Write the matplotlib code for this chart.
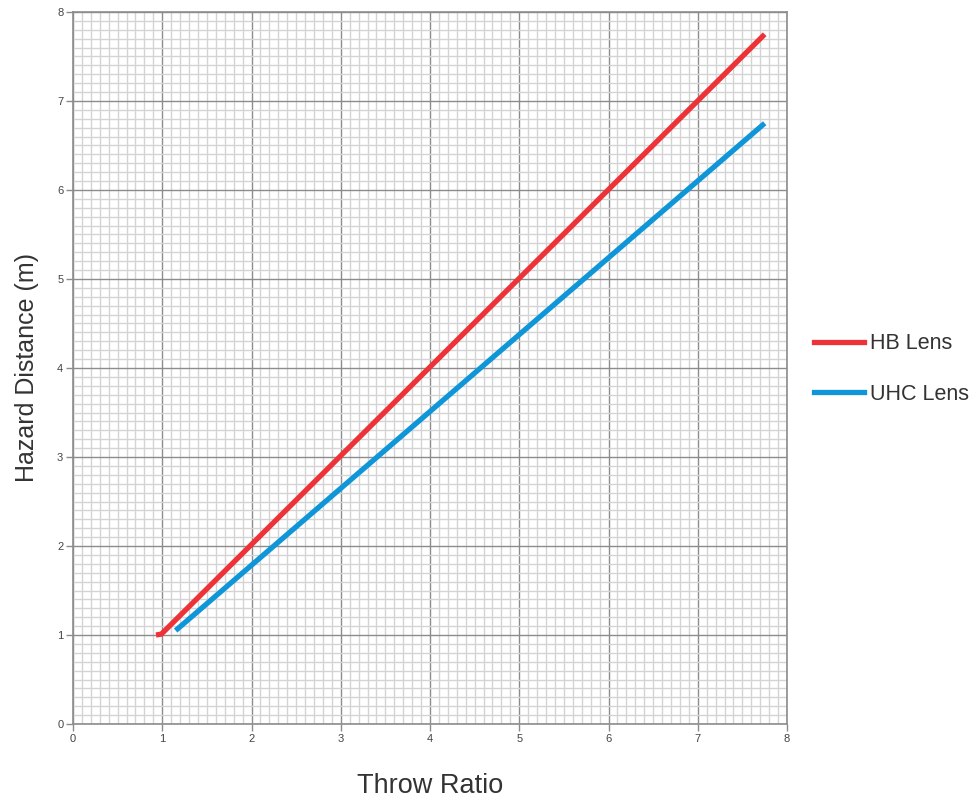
import matplotlib
matplotlib.use("Agg")
import matplotlib.pyplot as plt
from matplotlib.ticker import MultipleLocator
from matplotlib.lines import Line2D

plt.rcParams['font.family'] = ['Liberation Sans', 'DejaVu Sans']

hb_x = [0.93, 0.99, 7.75]
hb_y = [1.00, 1.01, 7.75]
uhc_x = [1.15, 7.75]
uhc_y = [1.05, 6.75]

series_names = ["HB Lens", "UHC Lens"]
colors = ["#EE3338", "#0E96D8"]

fig = plt.figure(figsize=(9.73, 8.0), dpi=100)
ax = fig.add_axes([73/973, 1-724/800, (787-73)/973, (724-12)/800])

ax.plot(hb_x, hb_y, color=colors[0], lw=3.8, solid_capstyle='butt', zorder=3)
ax.plot(uhc_x, uhc_y, color=colors[1], lw=3.8, solid_capstyle='butt', zorder=3)

ax.set_xlim(0, 8)
ax.set_ylim(0, 8)
ax.xaxis.set_major_locator(MultipleLocator(1))
ax.yaxis.set_major_locator(MultipleLocator(1))
ax.xaxis.set_minor_locator(MultipleLocator(0.1))
ax.yaxis.set_minor_locator(MultipleLocator(0.1))
ax.grid(which='minor', color='#d4d4d4', lw=1.0, zorder=0)
ax.grid(which='major', color='#8c8c8c', lw=1.0, zorder=1)
ax.set_axisbelow(True)
ax.tick_params(which='minor', length=0)
ax.tick_params(which='major', length=5, width=1, color='#8c8c8c', labelsize=8, labelcolor='#444444', pad=2)
for s in ax.spines.values():
    s.set_color('#8c8c8c')
    s.set_linewidth(1.2)

ax.set_xlabel("Throw Ratio", fontsize=19.5, color='#333333', labelpad=21)
ax.set_ylabel("Hazard Distance (m)", fontsize=18, color='#333333', labelpad=13)

handles = [Line2D([], [], color=c, lw=3.8) for c in colors]
fig.legend(handles, series_names, loc='center left', bbox_to_anchor=(814/973, 1-369/800),
           frameon=False, fontsize=15.5, handlelength=2.3, labelspacing=1.35,
           handletextpad=0.3, borderpad=0, borderaxespad=0, labelcolor='#333333')

fig.savefig("out.png", dpi=100)
